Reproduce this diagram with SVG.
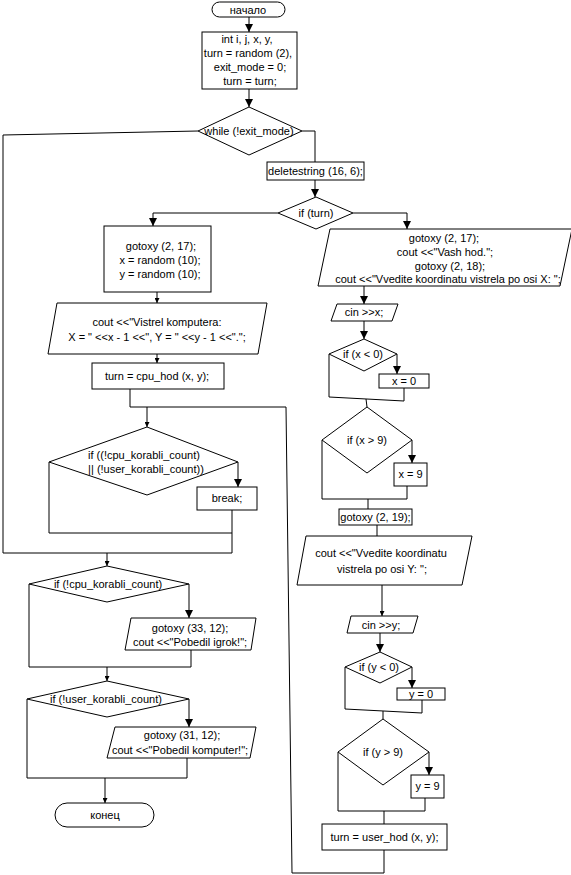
<svg xmlns="http://www.w3.org/2000/svg" width="571" height="875" viewBox="0 0 571 875">
<style>
.s{fill:#fff;stroke:#000;stroke-width:1}
.c{fill:none;stroke:#000;stroke-width:1}
text{font-family:"Liberation Sans",Arial,sans-serif;font-size:11px;fill:#000;text-anchor:middle}
</style>
<defs>
<marker id="ab" viewBox="0 0 8 8" refX="8" refY="4" markerWidth="8" markerHeight="8" markerUnits="userSpaceOnUse" orient="auto"><path d="M0,0 L8,4 L0,8 z" fill="#000"/></marker>
<marker id="as" viewBox="0 0 6 6" refX="6" refY="3" markerWidth="5" markerHeight="5" markerUnits="userSpaceOnUse" orient="auto"><path d="M0,0 L6,3 L0,6 z" fill="#000"/></marker>
</defs>
<rect width="571" height="875" fill="#fff"/>
<g id="connectors">
<polyline class="c" points="249,17 249,32" marker-end="url(#ab)"/>
<polyline class="c" points="249,89 249,107" marker-end="url(#ab)"/>
<polyline class="c" points="198,131 3,135 3,553 232,553"/>
<polyline class="c" points="232,510 232,553"/>
<polyline class="c" points="107,553 107,566" marker-end="url(#as)"/>
<polyline class="c" points="302,131 315,131 315,162"/>
<polyline class="c" points="315,180 315,197" marker-end="url(#ab)"/>
<polyline class="c" points="278,213 153,213 153,226" marker-end="url(#ab)"/>
<polyline class="c" points="353,213 407,213 407,229" marker-end="url(#ab)"/>
<polyline class="c" points="157,292 157,303" marker-end="url(#as)"/>
<polyline class="c" points="157,354 157,363" marker-end="url(#as)"/>
<polyline class="c" points="130,389 130,407 286,407 292,873 384,873 384,850"/>
<polyline class="c" points="147,407 147,427" marker-end="url(#as)"/>
<polyline class="c" points="238,462 238,487" marker-end="url(#ab)"/>
<polyline class="c" points="49,462 49,533 232,533"/>
<polyline class="c" points="189,584 189,618" marker-end="url(#ab)"/>
<polyline class="c" points="29,584 29,667 191,667 191,650"/>
<polyline class="c" points="107,667 107,681" marker-end="url(#as)"/>
<polyline class="c" points="189,699 189,727" marker-end="url(#ab)"/>
<polyline class="c" points="27,699 27,778 187,778 187,758"/>
<polyline class="c" points="105,778 105,803" marker-end="url(#as)"/>
<polyline class="c" points="364,286 364,304" marker-end="url(#ab)"/>
<polyline class="c" points="364,321 364,339" marker-end="url(#ab)"/>
<polyline class="c" points="397,354 397,374" marker-end="url(#ab)"/>
<polyline class="c" points="329,354 329,397 404,401 404,388"/>
<polyline class="c" points="366,399 367,407"/>
<polyline class="c" points="412,440 412,463" marker-end="url(#ab)"/>
<polyline class="c" points="322,440 322,499 407,499 407,486"/>
<polyline class="c" points="368,499 368,509"/>
<polyline class="c" points="377,525 377,536"/>
<polyline class="c" points="382,585 382,616" marker-end="url(#as)"/>
<polyline class="c" points="380,633 380,652" marker-end="url(#ab)"/>
<polyline class="c" points="412,667 412,688" marker-end="url(#ab)"/>
<polyline class="c" points="345,667 345,709 422,713 422,700"/>
<polyline class="c" points="383,711 383,719"/>
<polyline class="c" points="429,752 429,775" marker-end="url(#ab)"/>
<polyline class="c" points="338,752 338,811 425,811 425,798"/>
<polyline class="c" points="384,811 384,824"/>
</g>
<g id="start"><rect class="s" x="212" y="2" width="73" height="15" rx="7.5"/><text x="248" y="13.5">начало</text></g>
<g id="init"><rect class="s" x="202" y="32" width="95" height="57"/>
<text x="247" y="43">int i, j, x, y,</text><text x="248" y="57">turn = random (2),</text><text x="250" y="71">exit_mode = 0;</text><text x="250" y="85">turn = turn;</text></g>
<g id="while"><polygon class="s" points="249,107 302,131 249,155 198,131"/><text x="249" y="135">while (!exit_mode)</text></g>
<g id="deletestring"><rect class="s" x="267" y="162" width="97" height="18"/><text x="315.5" y="175">deletestring (16, 6);</text></g>
<g id="ifturn"><polygon class="s" points="316,197 353,213 316,229 278,213"/><text x="316" y="217">if (turn)</text></g>
<g id="cpurandom"><rect class="s" x="104" y="226" width="107" height="66"/>
<text x="161" y="250">gotoxy (2, 17);</text><text x="160" y="264">x = random (10);</text><text x="160" y="278">y = random (10);</text></g>
<g id="cpuout"><polygon class="s" points="57,303 267,303 258,354 48,354"/>
<text x="157" y="326">cout &lt;&lt;"Vistrel komputera:</text><text x="157" y="341">X = " &lt;&lt;x - 1 &lt;&lt;", Y = " &lt;&lt;y - 1 &lt;&lt;".";</text></g>
<g id="cpuhod"><rect class="s" x="92" y="363" width="132" height="26"/><text x="157" y="380">turn = cpu_hod (x, y);</text></g>
<g id="ifcount"><polygon class="s" points="147,427 238,462 147,495 49,462"/>
<text x="144" y="459">if ((!cpu_korabli_count)</text><text x="146" y="473">|| (!user_korabli_count))</text></g>
<g id="break"><rect class="s" x="197" y="487" width="60" height="23"/><text x="227" y="502">break;</text></g>
<g id="ifcpu"><polygon class="s" points="107,566 189,584 107,602 29,584"/><text x="108" y="588">if (!cpu_korabli_count)</text></g>
<g id="winuser"><polygon class="s" points="131,618 256,618 251,650 125,650"/>
<text x="190" y="632">gotoxy (33, 12);</text><text x="190" y="646">cout &lt;&lt;"Pobedil igrok!";</text></g>
<g id="ifuser"><polygon class="s" points="107,681 189,699 107,717 27,699"/><text x="106" y="703">if (!user_korabli_count)</text></g>
<g id="wincpu"><polygon class="s" points="115,727 256,727 250,758 107,758"/>
<text x="182" y="739">gotoxy (31, 12);</text><text x="180" y="754">cout &lt;&lt;"Pobedil komputer!";</text></g>
<g id="end"><rect class="s" x="55" y="803" width="99" height="24" rx="12"/><text x="105" y="819">конец</text></g>
<g id="userout"><polygon class="s" points="330,229 572,229 560,286 318,286"/>
<text x="444" y="242">gotoxy (2, 17);</text><text x="445" y="256">cout &lt;&lt;"Vash hod.";</text><text x="450" y="270">gotoxy (2, 18);</text><text x="448" y="283">cout &lt;&lt;"Vvedite koordinatu vistrela po osi X: ";</text></g>
<g id="cinx"><polygon class="s" points="337,304 398,304 392,321 331,321"/><text x="364" y="316">cin &gt;&gt;x;</text></g>
<g id="ifxlt"><polygon class="s" points="364,339 397,354 364,371 329,354"/><text x="363" y="358">if (x &lt; 0)</text></g>
<g id="x0"><rect class="s" x="379" y="374" width="50" height="14"/><text x="404" y="385">x = 0</text></g>
<g id="ifxgt"><polygon class="s" points="367,407 412,440 367,473 322,440"/><text x="367" y="444">if (x &gt; 9)</text></g>
<g id="x9"><rect class="s" x="394" y="463" width="33" height="23"/><text x="410.5" y="478">x = 9</text></g>
<g id="gotoxy19"><rect class="s" x="339" y="509" width="73" height="16"/><text x="375.5" y="521">gotoxy (2, 19);</text></g>
<g id="youtp"><polygon class="s" points="306,536 472,536 462,585 297,585"/>
<text x="381" y="557">cout &lt;&lt;"Vvedite koordinatu</text><text x="382" y="573">vistrela po osi Y: ";</text></g>
<g id="ciny"><polygon class="s" points="351,616 418,616 413,633 347,633"/><text x="381" y="629">cin &gt;&gt;y;</text></g>
<g id="ifylt"><polygon class="s" points="380,652 412,667 380,683 345,667"/><text x="379" y="671">if (y &lt; 0)</text></g>
<g id="y0"><rect class="s" x="397" y="688" width="48" height="12"/><text x="421" y="698">y = 0</text></g>
<g id="ifygt"><polygon class="s" points="383,719 429,752 383,785 338,752"/><text x="383" y="756">if (y &gt; 9)</text></g>
<g id="y9"><rect class="s" x="411" y="775" width="33" height="23"/><text x="427.5" y="790">y = 9</text></g>
<g id="userhod"><rect class="s" x="322" y="824" width="125" height="26"/><text x="384.5" y="841">turn = user_hod (x, y);</text></g>
</svg>
